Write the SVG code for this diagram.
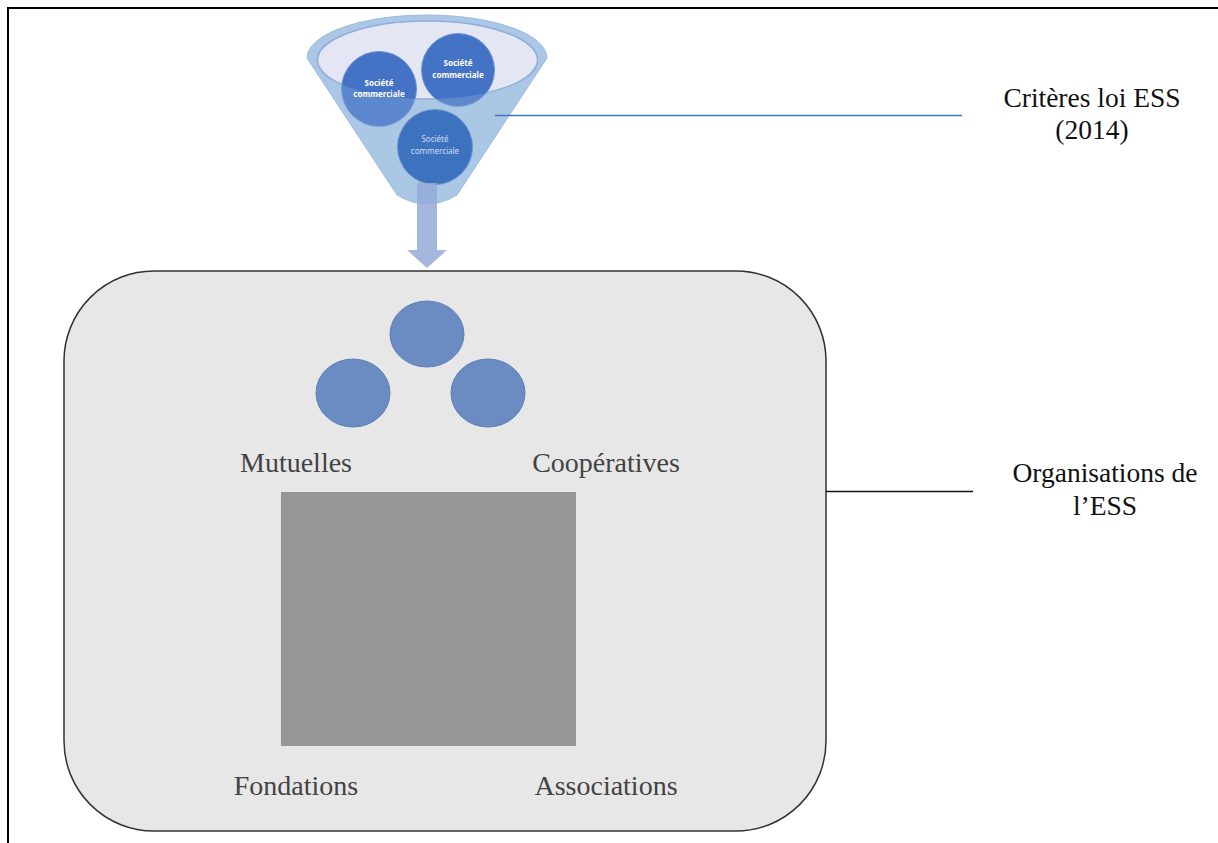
<svg xmlns="http://www.w3.org/2000/svg" width="1218" height="843" viewBox="0 0 1218 843">
<style>
.lbl{font-family:"Liberation Serif","Times New Roman",serif;font-size:28px;fill:#434343;text-anchor:middle}
.side{font-family:"Liberation Serif","Times New Roman",serif;font-size:27.5px;fill:#111;text-anchor:middle}
.soc{font-family:"Noto Sans","DejaVu Sans",sans-serif;font-size:8px;font-weight:bold;fill:#fff;text-anchor:middle}
.soc2{font-family:"Noto Sans","DejaVu Sans",sans-serif;font-size:8px;fill:#d3ddf0;text-anchor:middle}
.org{fill:#6b8bc3;stroke:#5f7fb9;stroke-width:1}
.co{fill:#4472c4;stroke:#6e93d3;stroke-width:1}
</style>
<rect width="1218" height="843" fill="#fff"/>
<g id="frame" fill="none" stroke="#000" stroke-width="2">
<path d="M8,843 V8 H1218"/>
</g>
<g id="ess-box">
<rect x="64" y="271" width="762" height="560" rx="90" ry="90" fill="#e7e7e7" stroke="#333" stroke-width="1.5"/>
<ellipse class="org" cx="427" cy="334" rx="37" ry="33"/>
<ellipse class="org" cx="353" cy="393" rx="37" ry="34"/>
<ellipse class="org" cx="488" cy="393" rx="37" ry="34"/>
<rect x="281" y="492" width="295" height="254" fill="#969696"/>
<text class="lbl" x="296" y="472">Mutuelles</text>
<text class="lbl" x="606" y="472">Coopératives</text>
<text class="lbl" x="296" y="795">Fondations</text>
<text class="lbl" x="606" y="795">Associations</text>
</g>
<g id="funnel">
<path d="M307,58 A120,43 0 0 1 547,58 L457,195 Q427,213 397,195 Z" fill="#abc7e5" stroke="#9dbbe0" stroke-width="1"/>
<ellipse cx="427.5" cy="60" rx="110" ry="39" fill="#e4e7f3" stroke="#8fb0d8" stroke-width="1.5"/>
<circle class="co" cx="379" cy="89" r="37.5"/>
<circle class="co" cx="458" cy="70" r="36.5"/>
<path d="M317.5,60 A110,39 0 0 0 537.5,60 L457,195 Q427,213 397,195 Z" fill="#a9c6e5" fill-opacity="0.25"/>
<circle cx="435" cy="147" r="37.5" fill="#3d72bf" stroke="#6e93d3" stroke-width="1"/>
<text class="soc" x="379" y="85.5">Société</text>
<text class="soc" x="379" y="96.5">commerciale</text>
<text class="soc" x="458" y="66">Société</text>
<text class="soc" x="458" y="77.5">commerciale</text>
<text class="soc2" x="435" y="142">Société</text>
<text class="soc2" x="435" y="153.5">commerciale</text>
</g>
<g id="connectors">
<path d="M417,183 H437 V250 H447 L427,268 L407,250 H417 Z" fill="#95aad8" fill-opacity="0.85"/>
<line x1="495" y1="115.5" x2="962" y2="115.5" stroke="#4472c4" stroke-width="1.3"/>
<line x1="826" y1="491.5" x2="973" y2="491.5" stroke="#111" stroke-width="1.3"/>
</g>
<g id="criteres">
<text class="side" x="1092" y="107">Critères loi ESS</text>
<text class="side" x="1092" y="139">(2014)</text>
</g>
<g id="organisations">
<text class="side" x="1105" y="482">Organisations de</text>
<text class="side" x="1105" y="515">l’ESS</text>
</g>
</svg>
